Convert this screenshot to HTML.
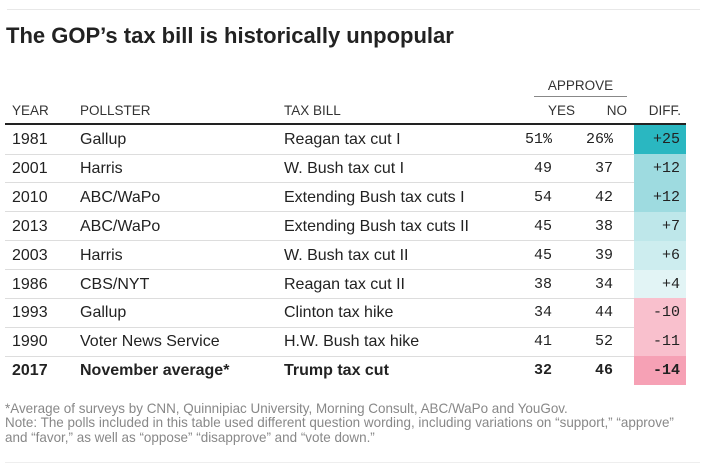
<!DOCTYPE html>
<html><head><meta charset="utf-8"><style>
body{margin:0;width:710px;height:473px;background:#fff;position:relative;overflow:hidden;font-family:"Liberation Sans",sans-serif;color:#222}
.a{position:absolute;white-space:nowrap}
.h{font-size:13.5px;color:#333;top:103px}
.r{font-size:16px;line-height:29px;height:29px}
.n{font-family:"Liberation Mono",monospace;font-size:15px;text-align:right;color:#222}
.fn{font-size:14px;color:#888;left:5px;transform:scaleX(0.96);transform-origin:left}
</style></head><body>
<div class="a" style="left:7px;top:9px;width:693px;height:1px;background:#e8e8e8"></div>
<div class="a" style="left:6px;top:23px;font-size:22px;font-weight:bold;color:#222">The GOP’s tax bill is historically unpopular</div>
<div class="a h" style="left:534px;width:93px;top:78px;text-align:center">APPROVE</div>
<div class="a" style="left:534px;top:96px;width:93px;height:1px;background:#888"></div>
<div class="a h" style="left:12px">YEAR</div>
<div class="a h" style="left:80px">POLLSTER</div>
<div class="a h" style="left:284px">TAX BILL</div>
<div class="a h" style="left:520px;width:55px;text-align:right">YES</div>
<div class="a h" style="left:575px;width:52px;text-align:right">NO</div>
<div class="a h" style="left:634px;width:47px;text-align:right">DIFF.</div>
<div class="a" style="left:5px;top:123px;width:681px;height:2px;background:#222"></div>
<div id="rows"></div>
<div class="a fn" style="top:400px">*Average of surveys by CNN, Quinnipiac University, Morning Consult, ABC/WaPo and YouGov.</div>
<div class="a fn" style="top:415px;line-height:15px">Note: The polls included in this table used different question wording, including variations on “support,” “approve”<br>and “favor,” as well as “oppose” “disapprove” and “vote down.”</div>
<div class="a" style="left:5px;top:462px;width:695px;height:1px;background:#eee"></div>
<script>
const years=["1981","2001","2010","2013","2003","1986","1993","1990","2017"];
const pollsters=["Gallup","Harris","ABC/WaPo","ABC/WaPo","Harris","CBS/NYT","Gallup","Voter News Service","November average*"];
const bills=["Reagan tax cut I","W. Bush tax cut I","Extending Bush tax cuts I","Extending Bush tax cuts II","W. Bush tax cut II","Reagan tax cut II","Clinton tax hike","H.W. Bush tax hike","Trump tax cut"];
const yes=[51,49,54,45,45,38,34,41,32];
const no=[26,37,42,38,39,34,44,52,46];
const diff=[25,12,12,7,6,4,-10,-11,-14];
const rowsEl=document.getElementById('rows');
function color(d){
  if(d>=20)return '#2ab7c1';
  if(d>=10)return '#9edbe0';
  if(d>=7)return '#bee7ea';
  if(d>=5)return '#cdedef';
  if(d>0)return '#e2f4f5';
  if(d>=-11)return '#f9c0cd';
  return '#f6a1b5';
}
function cell(top,left,w,txt,cls,name,isBold){
  const e=document.createElement('div');
  e.className='a r '+cls;
  e.style.left=left+'px';e.style.top=top+'px';
  if(w)e.style.width=w+'px';
  e.textContent=txt;
  e.style.fontWeight=isBold?'bold':'normal';
  
  
  rowsEl.appendChild(e);return e;
}
years.forEach((y,i)=>{
  const top=125+i*28.9;
  const last=i===years.length-1;
  const bg=document.createElement('div');
  bg.className='a';
  bg.style.cssText=`left:634px;top:${top}px;width:52px;height:29px;background:${color(diff[i])}`;
  
  
  rowsEl.appendChild(bg);
  cell(top,12,0,y,'','year-cell',last);
  cell(top,80,0,pollsters[i],'','pollster-cell',last);
  cell(top,284,0,bills[i],'','tax-bill-cell',last);
  cell(top,500,52,yes[i]+(i===0?'%':''),'n','yes-cell',last);
  cell(top,560,53,no[i]+(i===0?'%':''),'n','no-cell',last);
  cell(top,630,50,(diff[i]>0?'+':'-')+Math.abs(diff[i]),'n','diff-cell',last);
  if(!last){
    const l=document.createElement('div');
    l.className='a';
    l.style.cssText=`left:5px;top:${top+28.5}px;width:629px;height:1px;background:#ddd`;
    
    
    rowsEl.appendChild(l);
  }
});
</script>
</body></html>
